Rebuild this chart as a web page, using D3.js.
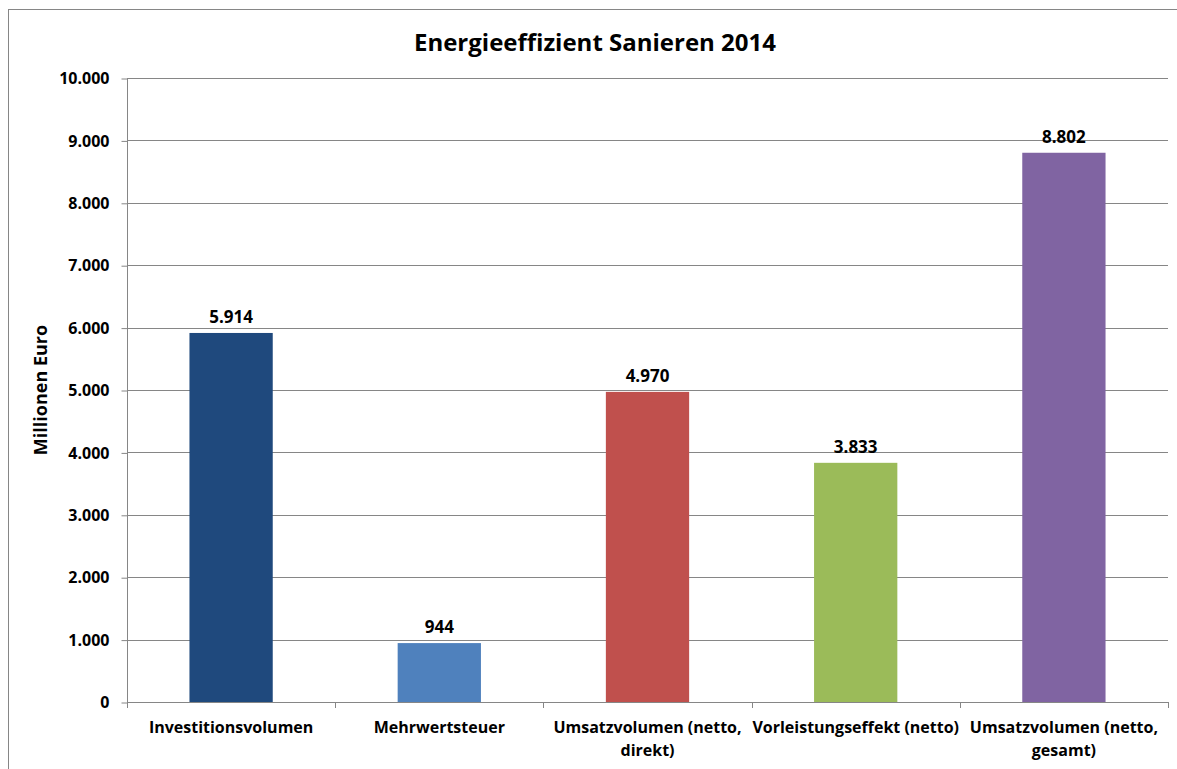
<!DOCTYPE html>
<html>
<head>
<meta charset="utf-8">
<script src="https://cdn.jsdelivr.net/npm/d3@7"></script>
<style>
body { margin: 0; background: #fff; }
text { font-family: "Open Sans", sans-serif; font-weight: bold; fill: #000; }
</style>
</head>
<body>
<script>
var categories = [
    ["Investitionsvolumen"],
    ["Mehrwertsteuer"],
    ["Umsatzvolumen (netto,", "direkt)"],
    ["Vorleistungseffekt (netto)"],
    ["Umsatzvolumen (netto,", "gesamt)"]
];
var values = [5914, 944, 4970, 3833, 8802];
var colors = ["#1F497D", "#4F81BD", "#C0504D", "#9BBB59", "#8064A2"];
var yTicks = [0, 1000, 2000, 3000, 4000, 5000, 6000, 7000, 8000, 9000, 10000];

var width = 1177, height = 769;
var plotLeft = 127, plotRight = 1168, plotTop = 78, plotBottom = 702;

var de = d3.formatLocale({ decimal: ",", thousands: ".", grouping: [3], currency: ["", " €"] });
var fmt = de.format(",d");

var svg = d3.select('body').append('svg')
    .attr('width', width)
    .attr('height', height);

// outer chart frame
svg.append('rect')
    .attr('x', 8.5).attr('y', 9.5)
    .attr('width', 1180).attr('height', 780)
    .attr('fill', 'none')
    .attr('stroke', '#868686');

var x = d3.scaleBand()
    .domain(d3.range(categories.length))
    .range([plotLeft, plotRight])
    .paddingInner(0.6)
    .paddingOuter(0.3);

var y = d3.scaleLinear().domain([0, 10000]).range([plotBottom, plotTop]);

// gridlines
svg.append('g').selectAll('line')
    .data(yTicks.slice(1))
    .enter().append('line')
        .attr('x1', plotLeft).attr('x2', plotRight)
        .attr('y1', function (d) { return Math.round(y(d)) + 0.5; })
        .attr('y2', function (d) { return Math.round(y(d)) + 0.5; })
        .attr('stroke', '#868686');

// y axis
var yAxis = svg.append('g')
    .attr('transform', 'translate(' + (plotLeft + 0.5) + ',0.5)')
    .call(d3.axisLeft(y).tickValues(yTicks).tickFormat(fmt).tickSize(6).tickPadding(12));
yAxis.selectAll('line, path').attr('stroke', '#868686');
yAxis.select('path').attr('d', 'M0,' + y(10000) + 'V' + y(0));
yAxis.selectAll('text').style('font-size', '16px').style('font-family', '"Open Sans", sans-serif').style('font-weight', 'bold');

// x axis baseline and category ticks
var step = (plotRight - plotLeft) / categories.length;
svg.append('line')
    .attr('x1', plotLeft).attr('x2', plotRight)
    .attr('y1', plotBottom + 0.5).attr('y2', plotBottom + 0.5)
    .attr('stroke', '#868686');
svg.append('g').selectAll('line')
    .data(d3.range(categories.length + 1))
    .enter().append('line')
        .attr('x1', function (d) { return Math.round(plotLeft + d * step) + 0.5; })
        .attr('x2', function (d) { return Math.round(plotLeft + d * step) + 0.5; })
        .attr('y1', plotBottom).attr('y2', plotBottom + 6)
        .attr('stroke', '#868686');

// bars
svg.append('g').selectAll('rect')
    .data(values)
    .enter().append('rect')
        .attr('x', function (d, i) { return x(i); })
        .attr('y', function (d) { return y(d); })
        .attr('width', x.bandwidth())
        .attr('height', function (d) { return y(0) - y(d); })
        .attr('fill', function (d, i) { return colors[i]; });

// value labels
svg.append('g').selectAll('text')
    .data(values)
    .enter().append('text')
        .attr('x', function (d, i) { return x(i) + x.bandwidth() / 2; })
        .attr('y', function (d) { return y(d) - 10; })
        .attr('text-anchor', 'middle')
        .style('font-size', '17px')
        .text(function (d) { return fmt(d); });

// category labels
var cat = svg.append('g').selectAll('text')
    .data(categories)
    .enter().append('text')
        .attr('text-anchor', 'middle')
        .style('font-size', '16px')
        .attr('transform', function (d, i) { return 'translate(' + (x(i) + x.bandwidth() / 2) + ',' + (plotBottom + 31) + ')'; });
cat.selectAll('tspan')
    .data(function (d) { return d; })
    .enter().append('tspan')
        .attr('x', 0)
        .attr('dy', function (d, i) { return i ? 23 : 0; })
        .text(function (d) { return d; });

// title
svg.append('text')
    .attr('x', 595).attr('y', 51)
    .attr('text-anchor', 'middle')
    .style('font-size', '24px')
    .text('Energieeffizient Sanieren 2014');

// y axis title
svg.append('text')
    .attr('transform', 'translate(47,' + ((plotTop + plotBottom) / 2) + ') rotate(-90)')
    .attr('text-anchor', 'middle')
    .style('font-size', '18px')
    .text('Millionen Euro');
</script>
</body>
</html>
